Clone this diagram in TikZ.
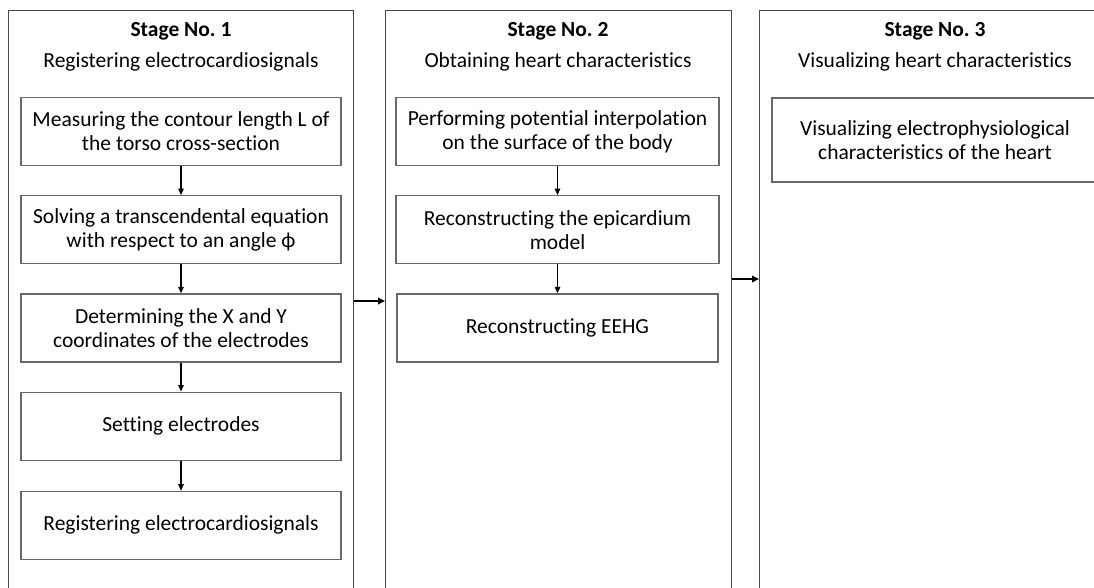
\documentclass[tikz,border=0pt]{standalone}
\usepackage{fontspec}
\setmainfont{Carlito}[Ligatures=NoCommon]
\usetikzlibrary{arrows.meta,positioning}
\definecolor{framegray}{RGB}{70,70,70}
\definecolor{boxgray}{RGB}{105,105,105}
\frenchspacing

\tikzset{
    stagebox/.style={draw=framegray, line width=1pt, anchor=north west, minimum height=620pt, inner sep=0pt},
    stagetitle/.style={align=center, inner sep=0pt, font=\fontsize{21.5}{31}\selectfont},
    stepbox/.style={draw=boxgray, line width=1.2pt, minimum width=320pt, minimum height=68pt,
        align=center, inner sep=0pt, font=\fontsize{21.5}{24}\selectfont},
    flow/.style={-{Triangle[length=6.5pt,width=5.5pt]}, line width=1.2pt},
    stageflow/.style={-{Triangle[length=7pt,width=6.5pt]}, line width=2pt}
}

\begin{document}
\begin{tikzpicture}[x=1pt, y=-1pt]
\useasboundingbox (0,0) rectangle (1094,587);
\clip (0,0) rectangle (1094,587);

% stages
\node[stagebox, minimum width=345pt] (s1) at (8,10) {};
\node[stagebox, minimum width=346pt] (s2) at (385,10) {};
\node[stagebox, minimum width=352pt] (s3) at (759,10) {};

\node[stagetitle] (t1) at (181,47) {\textbf{Stage No. 1}\\Registering electrocardiosignals};
\node[stagetitle] (t2) at (558,47) {\textbf{Stage No. 2}\\Obtaining heart characteristics};
\node[stagetitle] (t3) at (935,47) {\textbf{Stage No. 3}\\Visualizing heart characteristics};

% stage 1
\node[stepbox] (m1) at (181,131.5) {Measuring the contour length L of\\the torso cross-section};
\node[stepbox, below=29pt of m1] (m2) {Solving a transcendental equation\\with respect to an angle ϕ};
\node[stepbox, below=29pt of m2] (m3) {Determining the X and Y\\coordinates of the electrodes};
\node[stepbox, below=29pt of m3] (m4) {Setting electrodes};
\node[stepbox, below=30pt of m4] (m5) {Registering electrocardiosignals};

\draw[flow] (m1) -- (m2);
\draw[flow] (m2) -- (m3);
\draw[flow] (m3) -- (m4);
\draw[flow] (m4) -- (m5);

% stage 2
\node[stepbox, minimum width=323pt] (p1) at (557.5,131.5) {Performing potential interpolation\\on the surface of the body};
\node[stepbox, minimum width=323pt, below=29pt of p1] (p2) {Reconstructing the epicardium\\model};
\node[stepbox, minimum width=321pt, below=29pt of p2] (p3) {Reconstructing EEHG};

\draw[flow] (p1) -- (p2);
\draw[flow] (p2) -- (p3);

% stage 3
\node[stepbox, minimum width=326pt, minimum height=84pt] (v1) at (935,140) {Visualizing electrophysiological\\characteristics of the heart};

% between stages
\draw[stageflow] (s1.east |- 0,301) -- (s2.west |- 0,301);
\draw[stageflow] (s2.east |- 0,279) -- (s3.west |- 0,279);
\end{tikzpicture}
\end{document}
